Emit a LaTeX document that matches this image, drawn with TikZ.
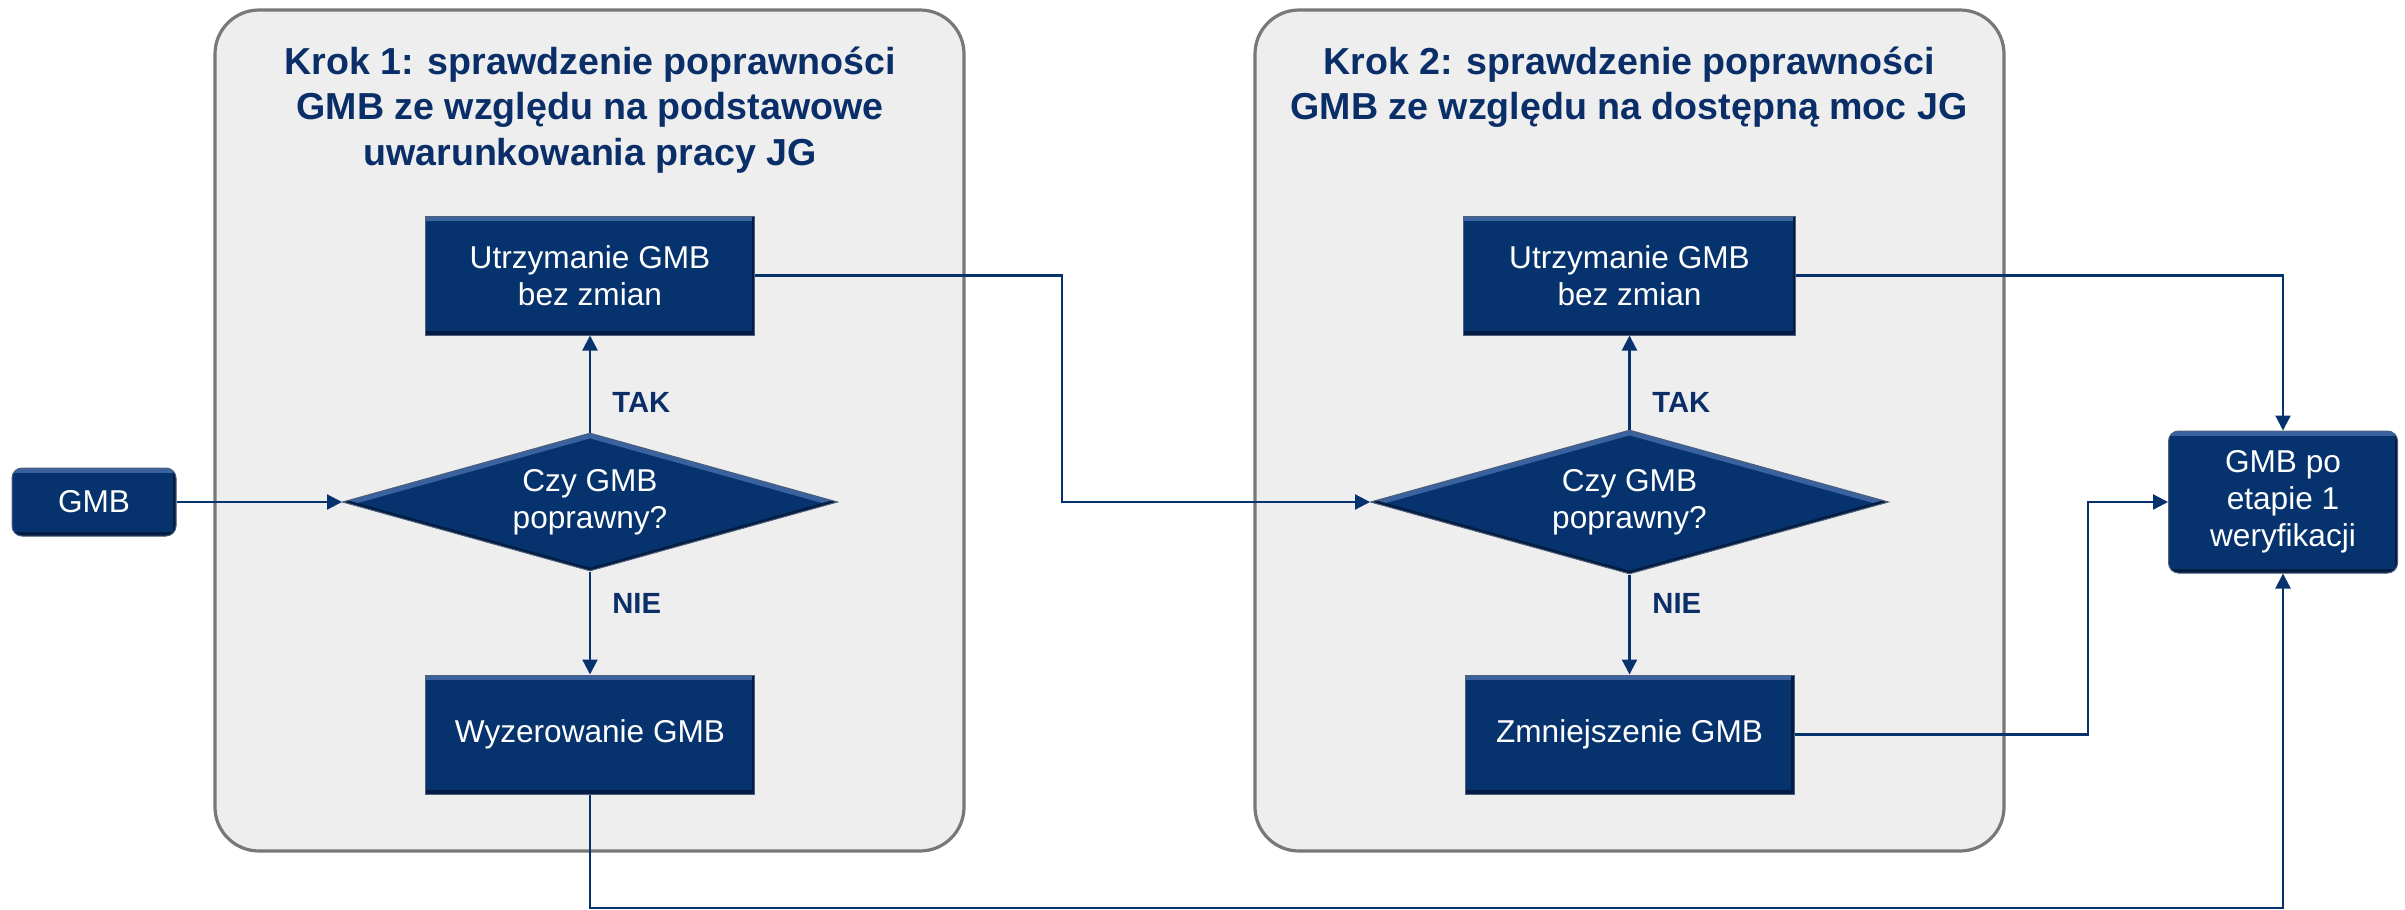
\documentclass[tikz,border=0pt]{standalone}
\usepackage{fontspec}
\setmainfont{Liberation Sans}
\usetikzlibrary{shapes.geometric,arrows.meta}

\definecolor{navy}{RGB}{6,51,110}
\definecolor{navyhi}{RGB}{58,98,158}
\definecolor{navydk}{RGB}{2,28,66}
\definecolor{panelfill}{RGB}{238,238,238}
\definecolor{panelline}{RGB}{120,120,120}
\definecolor{titlecol}{RGB}{10,46,104}

\tikzset{
  panel/.style={draw=panelline, line width=1.6pt, fill=panelfill, rounded corners=22pt},
  boxtext/.style={font=\fontsize{15.8}{18.5}\selectfont, text=white, align=center},
  bevel/.style={path picture={
      \draw[navyhi, line width=5pt]
        (path picture bounding box.north west) -- (path picture bounding box.north east);
      \draw[navydk, line width=4pt]
        (path picture bounding box.south west) -- (path picture bounding box.south east);
      \draw[navydk, line width=3pt]
        (path picture bounding box.north east) -- (path picture bounding box.south east);}},
  procbox/.style={boxtext, bevel, fill=navy, draw=navydk!70, line width=0.5pt,
    inner sep=0pt, minimum width=164.5pt, minimum height=59.5pt},
  roundbox/.style={procbox, rounded corners=5pt},
  decision/.style={boxtext, diamond, aspect=3.6, inner sep=0pt, fill=navy, draw=navydk!70,
    line width=0.5pt,
    path picture={
      \draw[navyhi, line width=5pt]
        (path picture bounding box.west) -- (path picture bounding box.north)
        -- (path picture bounding box.east);
      \draw[navydk, line width=3pt]
        (path picture bounding box.west) -- (path picture bounding box.south)
        -- (path picture bounding box.east);}},
  steptitle/.style={font=\bfseries\fontsize{18.8}{22.75}\selectfont, text=titlecol, align=center},
  answer/.style={font=\bfseries\fontsize{14.6}{17}\selectfont, text=titlecol, anchor=west, inner sep=0pt},
  flow/.style={draw=navy, line width=1.1pt, -{Triangle[length=7.5pt, width=7.5pt]}},
}

\begin{document}
\begin{tikzpicture}[x=0.5pt, y=-0.5pt]
  \useasboundingbox (0,0) rectangle (2405,910);

  % step panels
  \draw[panel] (215,10) rectangle (964,851);
  \draw[panel] (1255,10) rectangle (2004,851);

  \node[steptitle] (t1) at (590,110) {Krok 1: sprawdzenie poprawności\\GMB ze względu na podstawowe\\uwarunkowania pracy JG};
  \node[steptitle] (t2) at (1629,87) {Krok 2: sprawdzenie poprawności\\GMB ze względu na dostępną moc JG};

  % input and output
  \node[roundbox, minimum width=82pt, minimum height=34pt] (gmb) at (94,502) {GMB};
  \node[roundbox, minimum width=114.5pt, minimum height=71pt] (fin) at (2283,502) {GMB po\\etapie 1\\weryfikacji};

  % step 1
  \node[decision, minimum width=247.5pt, minimum height=69pt] (d1) at (590,502) {Czy GMB\\poprawny?};
  \node[procbox] (u1) at (590,275.5) {Utrzymanie GMB\\bez zmian};
  \node[procbox] (w1) at (590,734.5) {Wyzerowanie GMB};

  % step 2
  \node[decision, minimum width=259pt, minimum height=72pt] (d2) at (1629.5,502) {Czy GMB\\poprawny?};
  \node[procbox, minimum width=166pt] (u2) at (1629.5,275.5) {Utrzymanie GMB\\bez zmian};
  \node[procbox] (z2) at (1629.5,734.5) {Zmniejszenie GMB};

  % answers
  \node[answer] (tak1) at (612,402) {TAK};
  \node[answer] (nie1) at (612,603) {NIE};
  \node[answer] (tak2) at (1652,402) {TAK};
  \node[answer] (nie2) at (1652,603) {NIE};

  % routing points
  \coordinate (j1) at (1062,0);
  \coordinate (j2) at (2088,0);
  \coordinate (j3) at (0,908);

  % connectors
  \draw[flow] (gmb.east) -- (d1.west);
  \draw[flow] (d1.north) -- (u1.south);
  \draw[flow] (d1.south) -- (w1.north);
  \draw[flow] (u1.east) -| (j1 |- d2.west) -- (d2.west);
  \draw[flow] (d2.north) -- (u2.south);
  \draw[flow] (d2.south) -- (z2.north);
  \draw[flow] (u2.east) -| (fin.north);
  \draw[flow] (z2.east) -| (j2 |- fin.west) -- (fin.west);
  \draw[flow] (w1.south) |- (fin.south |- j3) -- (fin.south);
\end{tikzpicture}
\end{document}
